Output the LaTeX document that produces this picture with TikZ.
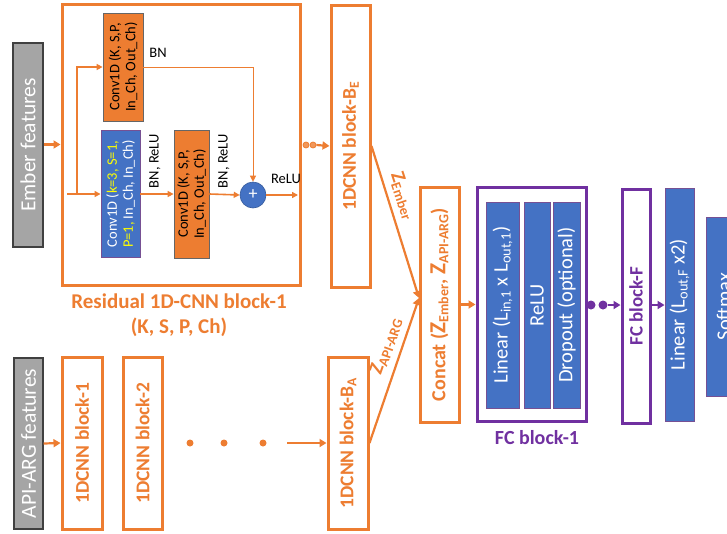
\documentclass[tikz,border=0pt]{standalone}
\usepackage{fontspec}
\setmainfont{Carlito}
\usetikzlibrary{arrows.meta}
\definecolor{cOr}{HTML}{ED7D31}
\definecolor{cBl}{HTML}{4472C4}
\definecolor{cPu}{HTML}{7030A0}
\definecolor{cGr}{HTML}{A5A5A5}
\definecolor{cYe}{HTML}{FFFF00}
\begin{document}
\begin{tikzpicture}[x=1pt,y=-1pt,
  graybox/.style={draw=black!75, line width=1.2pt, fill=cGr, inner sep=0pt},
  obox/.style={draw=cOr, line width=3pt, fill=white, inner sep=0pt},
  convbox/.style={draw=black!60, line width=0.8pt, fill=cOr, inner sep=0pt},
  bluebox/.style={draw=cPu!60!gray, line width=0.9pt, fill=cBl, inner sep=0pt},
  pbox/.style={draw=cPu, line width=3pt, fill=white, inner sep=0pt},
  big/.style={font=\fontsize{20.5}{24}\selectfont},
  bigb/.style={font=\bfseries\fontsize{19.5}{23}\selectfont},
  small/.style={font=\fontsize{14.5}{16}\selectfont},
  arr/.style={draw=cOr, line width=2.2pt, -{Triangle[length=7pt,width=8pt]}},
  midarr/.style={draw=cOr, line width=1.6pt, -{Triangle[length=6pt,width=6pt]}},
  thinarr/.style={draw=cOr, line width=1pt, -{Triangle[length=6pt,width=6pt]}},
  parr/.style={draw=cPu, line width=2.2pt, -{Triangle[length=7pt,width=8pt]}},
  odot/.style={circle, draw=cOr, fill=cOr!80, line width=0.8pt, inner sep=0pt, minimum size=6pt},
  bdot/.style={circle, fill=cOr, inner sep=0pt, minimum size=7pt},
  pdot/.style={circle, fill=cPu, inner sep=0pt, minimum size=9pt}
]
\useasboundingbox (0,0) rectangle (727,533);
\clip (0,0) rectangle (727,533);

% ---------- Ember branch ----------
\node[graybox, minimum width=30pt, minimum height=204pt] (emb) at (28,145) {};
\node[rotate=90, white, font=\fontsize{21.5}{24}\selectfont] at (emb) {Ember features};

\node[obox, minimum width=238pt, minimum height=281pt] (res) at (181,144.5) {};

\node[convbox, minimum width=40pt, minimum height=108pt] (c1) at (123,67) {};
\node[rotate=90, small, align=center] at (c1) {Conv1D (K, S,P,\\In\_Ch, Out\_Ch)};

\node[bluebox, minimum width=39pt, minimum height=127pt] (cb) at (120.5,194) {};
\node[rotate=90, small, align=center, white] at (cb) {Conv1D (\textcolor{cYe}{k=3, S=1,}\\\textcolor{cYe}{P=1,} In\_Ch, In\_Ch)};

\node[convbox, minimum width=35pt, minimum height=128pt] (c2) at (191.5,194) {};
\node[rotate=90, small, align=center] at (c2) {Conv1D (K, S,P,\\In\_Ch, Out\_Ch)};

\node[circle, fill=cBl, draw=cBl!80!black, line width=0.6pt, minimum size=26pt, inner sep=0pt, text=white, font=\fontsize{18}{18}\selectfont] (plus) at (253,195) {+};

\coordinate (mstart) at (67,194);
\coordinate (br) at (77,194);
\coordinate (rout) at (298,195);

\draw[midarr] (mstart) -- (cb.west);
\draw[midarr] (br) |- (c1.west);
\draw[midarr] (cb.east) -- (c2.west);
\draw[midarr] (c2.east) -- (plus.west);
\draw[thinarr] (c1.east) -| (plus.north);
\draw[midarr] (plus.east) -- (rout);

\node[small] (bnl) at (158,53) {BN};
\node[small, rotate=90] (bnr1) at (155,161) {BN, ReLU};
\node[small, rotate=90] (bnr2) at (224,161) {BN, ReLU};
\node[small] (relul) at (286,179) {ReLU};

\draw[arr] (emb.east |- res.west) -- (res.west);

\node[text=cOr, align=center, font=\bfseries\fontsize{21}{25}\selectfont] (reslab) at (179,315) {Residual 1D-CNN block-1\\(K, S, P, Ch)};

\node[odot] (d1) at (306,145) {};
\node[odot] (d2) at (313,145) {};

\node[obox, minimum width=39pt, minimum height=282pt] (be) at (350.5,146) {};
\node[rotate=90, bigb, text=cOr] at (be) {1DCNN block-B\textsubscript{E}};
\draw[arr] (d2.east) -- (be.west);

% ---------- API-ARG branch ----------
\node[graybox, minimum width=29pt, minimum height=171pt] (api) at (28.5,443.5) {};
\node[rotate=90, white, font=\fontsize{21.5}{24}\selectfont] at (api) {API-ARG features};

\node[obox, minimum width=40pt, minimum height=172pt] (b1) at (82,443) {};
\node[rotate=90, bigb, text=cOr] at (b1) {1DCNN block-1};
\node[obox, minimum width=39pt, minimum height=172pt] (b2) at (142.5,443) {};
\node[rotate=90, bigb, text=cOr] at (b2) {1DCNN block-2};
\node[obox, minimum width=40pt, minimum height=172pt] (ba) at (348,443) {};
\node[rotate=90, bigb, text=cOr] at (ba) {1DCNN block-B\textsubscript{A}};

\draw[arr] (api.east) -- (b1.west);
\node[bdot] (e1) at (190,443) {};
\node[bdot] (e2) at (224,443) {};
\node[bdot] (e3) at (263,443) {};
\coordinate (astart) at (287,443);
\draw[arr] (astart) -- (ba.west);

% ---------- Concat ----------
\node[obox, minimum width=39pt, minimum height=235pt] (cc) at (439.5,304.5) {};
\node[rotate=90, text=cOr, font=\bfseries\fontsize{20}{23}\selectfont] at (cc) {Concat (\fontsize{23}{23}\selectfont Z\fontsize{20}{23}\selectfont\textsubscript{Ember}, \fontsize{23}{23}\selectfont Z\fontsize{20}{23}\selectfont\textsubscript{API-ARG})};
\coordinate (cin) at (419,298);
\draw[arr] (be.east) -- (cin);
\draw[arr] (ba.east) -- (cin);
\node[rotate=-71.6, text=cOr, font=\bfseries\fontsize{20}{22}\selectfont] (ze) at (403,196) {Z\textsubscript{Ember}};
\node[rotate=70.6, text=cOr, font=\bfseries\fontsize{20}{22}\selectfont] (za) at (386,346) {Z\textsubscript{API-ARG}};

% ---------- FC blocks ----------
\node[pbox, minimum width=109pt, minimum height=234pt] (fc1) at (531.5,304) {};
\node[bluebox, minimum width=33pt, minimum height=206pt] (lin) at (502.5,305) {};
\node[rotate=90, big, white] at (lin) {Linear (L\textsubscript{in,1} x L\textsubscript{out,1})};
\node[bluebox, minimum width=26pt, minimum height=206pt] (rl) at (537,305) {};
\node[rotate=90, big, white] at (rl) {ReLU};
\node[bluebox, minimum width=27pt, minimum height=206pt] (dr) at (566.5,305) {};
\node[rotate=90, big, white] at (dr) {Dropout (optional)};
\node[text=cPu, font=\bfseries\fontsize{20}{23}\selectfont] (fc1lab) at (537,438) {FC block-1};

\draw[arr] (cc.east) -- (fc1.west |- cc.east);

\node[pdot] (p1) at (591,305) {};
\node[pdot] (p2) at (603,305) {};
\node[pbox, minimum width=28pt, minimum height=234pt] (fcf) at (636,306) {};
\node[rotate=90, text=cPu, font=\bfseries\fontsize{19}{22}\selectfont] at (fcf) {FC block-F};
\draw[parr] (p2.east) -- (fcf.west |- p2.east);

\node[bluebox, minimum width=29pt, minimum height=233pt] (linf) at (679.5,304.5) {};
\node[rotate=90, big, white] at (linf) {Linear (L\textsubscript{out,F} x2)};
\draw[parr] (fcf.east |- 0,305) -- (linf.west |- 0,305);

\node[bluebox, minimum width=36pt, minimum height=179pt] (sm) at (724,306.5) {};
\node[rotate=90, big, white] at (sm) {Softmax};
\end{tikzpicture}
\end{document}
